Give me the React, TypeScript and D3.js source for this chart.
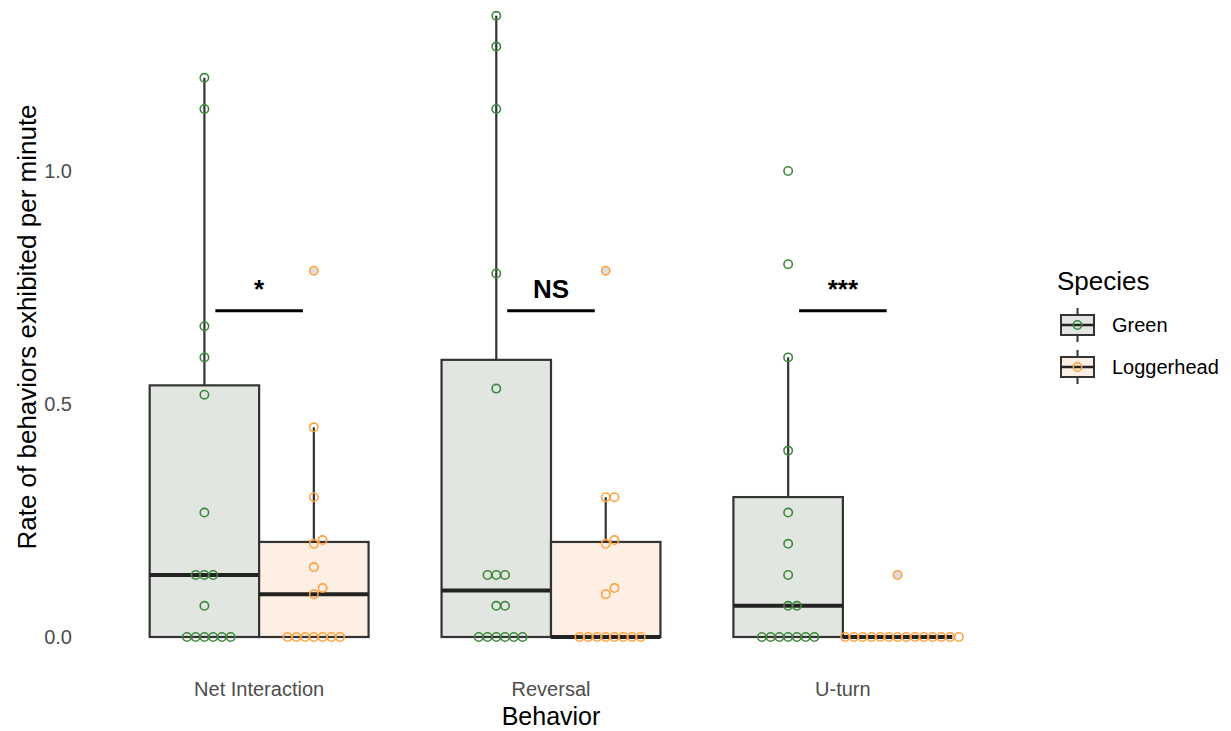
import React, { useEffect, useRef } from 'react';
import * as d3 from 'd3';

const behaviors = ['Net Interaction', 'Reversal', 'U-turn'];
const species = ['Green', 'Loggerhead'];
const yTicks = [0, 0.5, 1.0];
const significance = ['*', 'NS', '***'];

// rate per minute for each turtle, one list per behavior
const greenRates = [
  [0, 0, 0, 0, 0, 0, 0.067, 0.133, 0.133, 0.133, 0.267, 0.52, 0.6, 0.667, 1.133, 1.2],
  [0, 0, 0, 0, 0, 0, 0.067, 0.067, 0.133, 0.133, 0.133, 0.533, 0.78, 1.133, 1.267, 1.333],
  [0, 0, 0, 0, 0, 0, 0, 0.067, 0.067, 0.133, 0.2, 0.267, 0.4, 0.6, 0.8, 1.0],
];
const loggerheadRates = [
  [0, 0, 0, 0, 0, 0, 0, 0.092, 0.105, 0.15, 0.2, 0.208, 0.3, 0.45, 0.786],
  [0, 0, 0, 0, 0, 0, 0, 0, 0.092, 0.105, 0.2, 0.208, 0.3, 0.3, 0.786],
  [0, 0, 0, 0, 0, 0, 0, 0, 0, 0, 0, 0, 0, 0, 0.133],
];

const dotColors = ['#3c873c', '#ffa040'];
const boxFills = ['#e1e6e1', '#fdefe3'];
const outlierFills = ['#ffffff', '#dcdcdc'];
const font = '"Liberation Sans", Arial, Helvetica, sans-serif';

function boxStats(values: number[]) {
  const s = values.slice().sort(d3.ascending);
  const q1 = d3.quantile(s, 0.25)!;
  const med = d3.quantile(s, 0.5)!;
  const q3 = d3.quantile(s, 0.75)!;
  const iqr = q3 - q1;
  const lo = d3.min(s.filter((v) => v >= q1 - 1.5 * iqr))!;
  const hi = d3.max(s.filter((v) => v <= q3 + 1.5 * iqr))!;
  return { q1, med, q3, lo, hi };
}

// dotplot style binning, stacked "centerwhole" across x
function stackDots(values: number[], binwidth: number) {
  const s = values.slice().sort(d3.ascending);
  const bins: number[][] = [];
  s.forEach((v) => {
    const last = bins[bins.length - 1];
    if (last && v - last[0] < binwidth) last.push(v);
    else bins.push([v]);
  });
  const out: { v: number; k: number }[] = [];
  bins.forEach((b) => {
    const shift = Math.floor((b.length - 1) / 2);
    b.forEach((v, i) => out.push({ v, k: i - shift }));
  });
  return out;
}

export default function App() {
  const ref = useRef<SVGSVGElement>(null);
  const width = 1231;
  const height = 731;

  useEffect(() => {
    const svg = d3.select(ref.current);
    svg.selectAll('*').remove();

    const x = d3.scalePoint().domain(behaviors).range([84, 1018]).padding(0.6);
    const y = d3.scaleLinear().domain([0, 1]).range([637, 171]);
    const step = x.step();
    const boxW = step * 0.375;
    const dotR = 4.2;
    const dotStep = 8.75;
    const binwidth = (dotStep / (y(0) - y(1)));

    const groups: any[] = [];
    behaviors.forEach((b, bi) => {
      [greenRates[bi], loggerheadRates[bi]].forEach((vals, si) => {
        groups.push({ b, si, vals, cx: x(b)! + (si === 0 ? -1 : 1) * boxW / 2, st: boxStats(vals) });
      });
    });

    // y axis labels
    svg.append('g')
      .selectAll('text')
      .data(yTicks)
      .enter()
      .append('text')
      .attr('x', 72)
      .attr('y', (d) => y(d))
      .attr('text-anchor', 'end')
      .attr('dominant-baseline', 'central')
      .style('font-family', font)
      .style('font-size', '20px')
      .style('fill', '#4d4d4d')
      .text((d) => d3.format('.1f')(d));

    // x axis labels
    svg.append('g')
      .selectAll('text')
      .data(behaviors)
      .enter()
      .append('text')
      .attr('x', (d) => x(d)!)
      .attr('y', 689)
      .attr('text-anchor', 'middle')
      .attr('dominant-baseline', 'central')
      .style('font-family', font)
      .style('font-size', '20px')
      .style('fill', '#4d4d4d')
      .text((d) => d);

    svg.append('text')
      .attr('x', x('Reversal')!)
      .attr('y', 725)
      .attr('text-anchor', 'middle')
      .style('font-family', font)
      .style('font-size', '25px')
      .text('Behavior');

    svg.append('text')
      .attr('transform', 'translate(27, 327) rotate(-90)')
      .attr('text-anchor', 'middle')
      .attr('dominant-baseline', 'central')
      .style('font-family', font)
      .style('font-size', '26px')
      .text('Rate of behaviors exhibited per minute');

    // boxes
    const box = svg.append('g')
      .selectAll('g')
      .data(groups)
      .enter()
      .append('g');

    box.append('line')
      .attr('x1', (d) => d.cx).attr('x2', (d) => d.cx)
      .attr('y1', (d) => y(d.st.q3)).attr('y2', (d) => y(d.st.hi))
      .style('stroke', '#333').style('stroke-width', 2.2);

    box.append('rect')
      .attr('x', (d) => d.cx - boxW / 2)
      .attr('width', boxW)
      .attr('y', (d) => y(d.st.q3))
      .attr('height', (d) => y(d.st.q1) - y(d.st.q3))
      .style('fill', (d) => boxFills[d.si])
      .style('stroke', '#333')
      .style('stroke-width', 2.2);

    box.append('line')
      .attr('x1', (d) => d.cx - boxW / 2).attr('x2', (d) => d.cx + boxW / 2)
      .attr('y1', (d) => y(d.st.med)).attr('y2', (d) => y(d.st.med))
      .style('stroke', '#222').style('stroke-width', 4);

    // outliers from the boxplot
    groups.forEach((g) => {
      svg.append('g')
        .selectAll('circle')
        .data(g.vals.filter((v: number) => v > g.st.hi || v < g.st.lo))
        .enter()
        .append('circle')
        .attr('cx', g.cx)
        .attr('cy', (d: any) => y(d))
        .attr('r', dotR)
        .style('fill', outlierFills[g.si]);
    });

    // dots
    groups.forEach((g) => {
      svg.append('g')
        .selectAll('circle')
        .data(stackDots(g.vals, binwidth))
        .enter()
        .append('circle')
        .attr('cx', (d) => g.cx + d.k * dotStep)
        .attr('cy', (d) => y(d.v))
        .attr('r', dotR)
        .style('fill', 'none')
        .style('stroke', dotColors[g.si])
        .style('stroke-width', 1.6);
    });

    // significance bars
    const sig = svg.append('g')
      .selectAll('g')
      .data(behaviors)
      .enter()
      .append('g');
    sig.append('line')
      .attr('x1', (d) => x(d)! - step * 0.15)
      .attr('x2', (d) => x(d)! + step * 0.15)
      .attr('y1', y(0.7)).attr('y2', y(0.7))
      .style('stroke', '#000').style('stroke-width', 3);
    sig.append('text')
      .attr('x', (d) => x(d)!)
      .attr('y', y(0.727))
      .attr('text-anchor', 'middle')
      .style('font-family', font)
      .style('font-size', '26px')
      .style('font-weight', 'bold')
      .text((d, i) => significance[i]);

    // legend
    const legend = svg.append('g').attr('transform', 'translate(1057, 0)');
    legend.append('text')
      .attr('x', 0).attr('y', 281)
      .attr('dominant-baseline', 'central')
      .style('font-family', font)
      .style('font-size', '26px')
      .text('Species');
    const item = legend.selectAll('g.item')
      .data(species)
      .enter()
      .append('g')
      .attr('transform', (d, i) => `translate(0, ${325 + i * 42})`);
    item.append('line')
      .attr('x1', 20.5).attr('x2', 20.5).attr('y1', -17).attr('y2', 17)
      .style('stroke', '#333').style('stroke-width', 2);
    item.append('rect')
      .attr('x', 4).attr('y', -10).attr('width', 33).attr('height', 20)
      .style('fill', (d, i) => boxFills[i])
      .style('stroke', '#333').style('stroke-width', 2);
    item.append('line')
      .attr('x1', 4).attr('x2', 37).attr('y1', 0).attr('y2', 0)
      .style('stroke', '#222').style('stroke-width', 2.5);
    item.append('circle')
      .attr('cx', 20.5).attr('cy', 0).attr('r', dotR)
      .style('fill', 'none')
      .style('stroke', (d, i) => dotColors[i])
      .style('stroke-width', 1.6);
    item.append('text')
      .attr('x', 55).attr('y', 0)
      .attr('dominant-baseline', 'central')
      .style('font-family', font)
      .style('font-size', '20px')
      .text((d) => d);
  }, []);

  return (
    <svg
      ref={ref}
      width={width}
      height={height}
      style={{ position: 'absolute', left: 0, top: 0, background: '#fff' }}
    />
  );
}
